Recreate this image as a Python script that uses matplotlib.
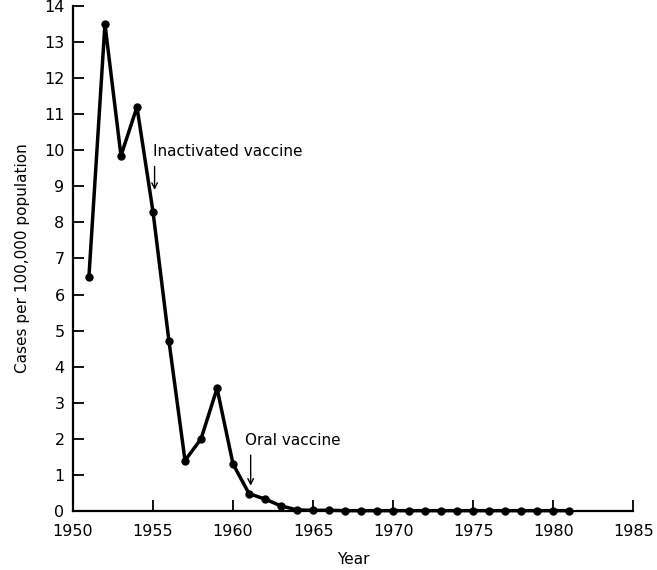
import matplotlib
matplotlib.use("Agg")
import matplotlib.pyplot as plt

years = list(range(1951, 1982))
cases = [6.5, 13.5, 9.85, 11.2, 8.3, 4.7, 1.4, 2.0, 3.4, 1.3, 0.48, 0.33, 0.14,
         0.03, 0.02, 0.02, 0.01, 0.01, 0.01, 0.01, 0.01, 0.01, 0.01, 0.01,
         0.01, 0.01, 0.01, 0.01, 0.01, 0.01, 0.01]
xticks = [1950, 1955, 1960, 1965, 1970, 1975, 1980, 1985]
yticks = list(range(0, 15))
# (label, text x, text y, arrow x, arrow start y, arrow end y)
annotations = [("Inactivated vaccine", 1955.0, 9.75, 1955.1, 9.55, 8.9),
               ("Oral vaccine", 1960.75, 1.75, 1961.1, 1.55, 0.7)]

plt.rcParams['font.family'] = ['DejaVu Sans']
fig = plt.figure(figsize=(6.57, 5.70), dpi=100)
ax = fig.add_axes([0.111, 0.1035, 0.853, 0.886])

ax.plot(years, cases, color='black', lw=2.5, marker='o', ms=5, clip_on=False, zorder=3)

ax.set_xlim(1950, 1985)
ax.set_ylim(0, 14)
ax.set_xticks(xticks)
ax.set_yticks(yticks)
ax.tick_params(direction='in', length=8, width=1.3, labelsize=11.5, pad=6)
ax.tick_params(axis='x', pad=9)
for s in ['top', 'right']:
    ax.spines[s].set_visible(False)
for s in ['left', 'bottom']:
    ax.spines[s].set_linewidth(1.6)

for text, tx, ty, ax_x, y0, y1 in annotations:
    ax.text(tx, ty, text, fontsize=11, ha='left', va='bottom')
    ax.annotate("", xy=(ax_x, y1), xytext=(ax_x, y0),
                arrowprops=dict(arrowstyle='->', color='black', lw=1.0,
                                shrinkA=0, shrinkB=0))

ax.set_xlabel("Year", fontsize=11, labelpad=10)
ax.set_ylabel("Cases per 100,000 population", fontsize=11, labelpad=10)

fig.savefig("out.png", dpi=100)
